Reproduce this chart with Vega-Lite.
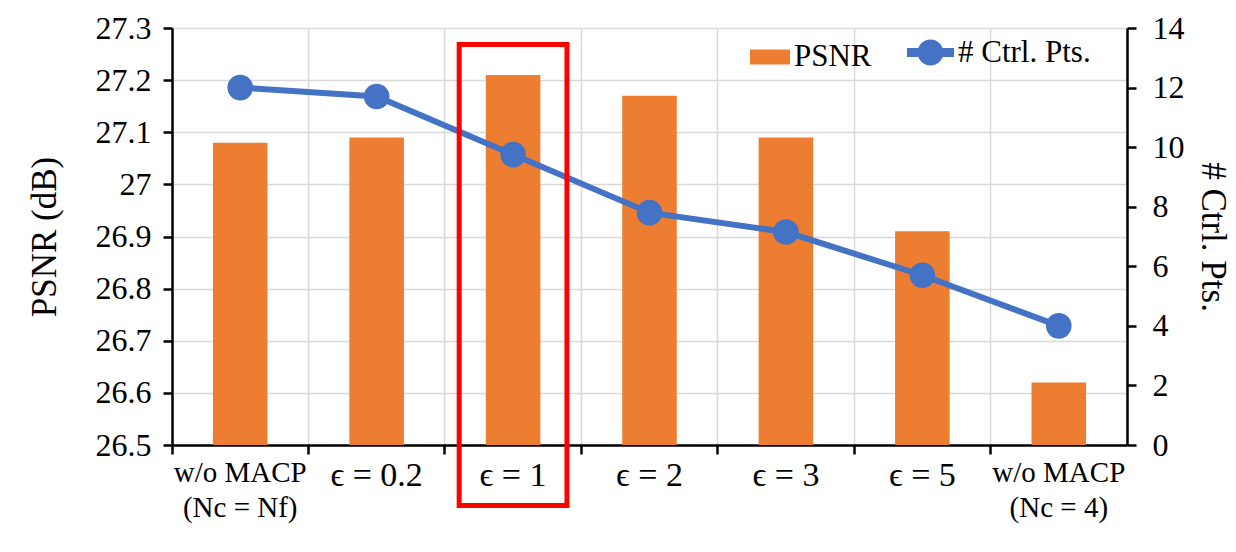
{
  "$schema": "https://vega.github.io/schema/vega-lite/v6.json",
  "width": 955,
  "height": 417,
  "autosize": "none",
  "padding": {"left": 172, "top": 28, "right": 109, "bottom": 107},
  "background": "white",
  "config": {
    "view": {"stroke": null},
    "font": "Liberation Serif",
    "axis": {
      "domainColor": "#000000",
      "domainWidth": 2.5,
      "tickColor": "#000000",
      "tickWidth": 2.5,
      "tickSize": 9,
      "labelColor": "#000000",
      "labelFont": "Liberation Serif",
      "labelFontSize": 32,
      "titleFont": "Liberation Serif",
      "titleFontSize": 35,
      "titleFontWeight": "normal",
      "titleColor": "#000000",
      "gridColor": "#d9d9d9",
      "gridWidth": 1.5
    },
    "legend": {
      "labelFont": "Liberation Serif",
      "labelFontSize": 31,
      "labelColor": "#000000"
    }
  },
  "data": {
    "values": [
      {"cat": "w/o MACP|(Nc = Nf)", "psnr": 27.08, "pts": 12.0},
      {"cat": "ϵ = 0.2", "psnr": 27.09, "pts": 11.7},
      {"cat": "ϵ = 1", "psnr": 27.21, "pts": 9.75},
      {"cat": "ϵ = 2", "psnr": 27.17, "pts": 7.8},
      {"cat": "ϵ = 3", "psnr": 27.09, "pts": 7.15},
      {"cat": "ϵ = 5", "psnr": 26.91, "pts": 5.7},
      {"cat": "w/o MACP|(Nc = 4)", "psnr": 26.62, "pts": 4.0}
    ]
  },
  "encoding": {
    "x": {
      "field": "cat",
      "type": "nominal",
      "sort": null,
      "scale": {"paddingInner": 0, "paddingOuter": 0},
      "axis": {
        "title": null,
        "labelAngle": 0,
        "bandPosition": 0,
        "grid": true,
        "labelExpr": "split(datum.label, '|')",
        "labelBaseline": "top",
        "labelPadding": 4,
        "labelLineHeight": 35,
        "labelFontSize": {"condition": {"test": "indexof(datum.value, 'MACP') >= 0", "value": 29}, "value": 34}
      }
    }
  },
  "layer": [
    {
      "mark": {"type": "bar", "width": {"band": 0.4}},
      "encoding": {
        "y": {
          "field": "psnr",
          "type": "quantitative",
          "scale": {"domain": [26.5, 27.3], "zero": false, "nice": false},
          "axis": {
            "orient": "left",
            "values": [26.5, 26.6, 26.7, 26.8, 26.9, 27.0, 27.1, 27.2, 27.3],
            "format": "~r",
            "title": "PSNR (dB)",
            "titlePadding": 33,
            "labelPadding": 12,
            "grid": true
          }
        },
        "y2": {"datum": 26.5},
        "fill": {
          "datum": "PSNR",
          "scale": {"range": ["#ED7D31"]},
          "legend": {
            "title": null,
            "orient": "none",
            "legendX": 578,
            "legendY": 9,
            "symbolType": "M-1,-0.38H1V0.38H-1Z",
            "symbolSize": 1600,
            "symbolStrokeWidth": 0,
            "labelOffset": 4
          }
        }
      }
    },
    {
      "layer": [
        {
          "mark": {
            "type": "line",
            "color": "#4472C4",
            "strokeWidth": 6,
            "point": {"filled": true, "size": 560, "color": "#4472C4"}
          },
          "encoding": {
            "y": {
              "field": "pts",
              "type": "quantitative",
              "scale": {"domain": [0, 14], "nice": false, "zero": true},
              "axis": {
                "orient": "right",
                "values": [0, 2, 4, 6, 8, 10, 12, 14],
                "title": "# Ctrl. Pts.",
                "titlePadding": 10,
                "labelPadding": 16,
                "grid": false
              }
            },
            "stroke": {
              "datum": "# Ctrl. Pts.",
              "scale": {"range": ["#4472C4"]},
              "legend": {
                "title": null,
                "orient": "none",
                "legendX": 743,
                "legendY": 9,
                "symbolType": "M-1.6,-0.3H1.6V0.3H-1.6Z M0.88,0A0.88,0.88,0,1,1,-0.88,0A0.88,0.88,0,1,1,0.88,0Z",
                "symbolSize": 864,
                "symbolFillColor": "#4472C4",
                "symbolStrokeWidth": 0,
                "labelOffset": 12
              }
            }
          }
        },
        {
          "data": {"values": [{"box": "highlight"}]},
          "mark": {
            "type": "rect",
            "filled": false,
            "stroke": "#FF0000",
            "strokeWidth": 5,
            "width": {"band": 0.79}
          },
          "encoding": {
            "x": {"datum": "ϵ = 1"},
            "y": {"datum": 13.45},
            "y2": {"datum": -2.03}
          }
        }
      ]
    }
  ],
  "resolve": {"scale": {"y": "independent"}, "axis": {"y": "independent"}}
}
